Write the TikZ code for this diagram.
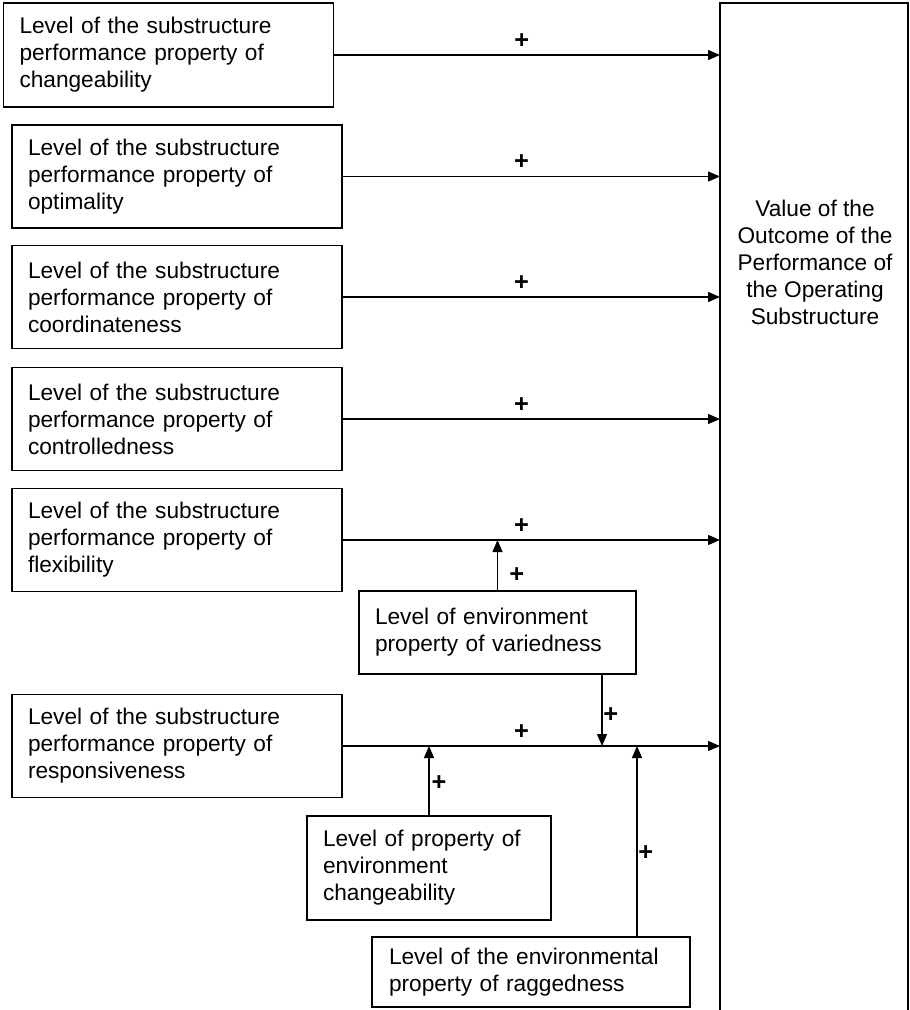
\documentclass[tikz,border=0pt]{standalone}
\usepackage{fontspec}
\setmainfont{Liberation Sans}
\usetikzlibrary{arrows.meta,positioning}

\begin{document}
\begin{tikzpicture}[x=.75pt,y=-.75pt,line width=.9pt,font=\fontsize{17}{20.25}\selectfont,
  >={Triangle[length=9pt,width=7.5pt]},
  levelbox/.style={draw,align=left,inner xsep=12pt,text width=223.5pt,minimum height=77.25pt},
  envbox/.style={draw,align=left,inner xsep=12pt},
  plus/.style={font=\fontsize{19}{19}\selectfont\bfseries,inner sep=.5pt}]
  \useasboundingbox (0,0) rectangle (910,1010);
  \node[levelbox,minimum height=78pt] (chg) at (168.5,55) {Level of the substructure\\performance property of\\changeability};
  \node[levelbox] (opt) at (177,176.5) {Level of the substructure\\performance property of\\optimality};
  \node[levelbox] (coord) at (177,297) {Level of the substructure\\performance property of\\coordinateness};
  \node[levelbox] (ctrl) at (177,419) {Level of the substructure\\performance property of\\controlledness};
  \node[levelbox] (flex) at (177,540) {Level of the substructure\\performance property of\\flexibility};
  \node[levelbox] (resp) at (177,746) {Level of the substructure\\performance property of\\responsiveness};
  \node[envbox,text width=183.75pt,minimum height=62.25pt] (vary) at (497.5,632.5) {Level of environment\\property of variedness};
  \node[envbox,text width=159pt,minimum height=78pt] (envchg) at (429,868) {Level of property of\\environment\\changeability};
  \node[envbox,text width=213pt,inner xsep=12.75pt,minimum height=52.5pt] (ragg) at (531,972) {Level of the environmental\\property of raggedness};
  \node[align=center] (outcome) at (815,262) {Value of the\\Outcome of the\\Performance of\\the Operating\\Substructure};
  \coordinate (outtl) at (720,3);
  \coordinate (outtr) at (908,3);
  \draw (720,1010) -- (outtl) -- (outtr) -- (908,1010);
  \draw[->] (chg.east) -- (chg.east -| outtl) node[plus,pos=.486,above=4pt]{+};
  \foreach \src in {opt,coord,ctrl,flex,resp}{
    \draw[->] (\src.east) -- (\src.east -| outtl) node[plus,pos=.474,above=4pt]{+};
  }
  \coordinate (varyout) at ([xshift=78.4pt]vary.south);
  \coordinate (raggout) at ([xshift=79.5pt]ragg.north);
  \draw[->] (vary.north) -- (vary.north |- flex.east) node[plus,pos=.3,right=8pt]{+};
  \draw[->] (varyout) -- (varyout |- resp.east) node[plus,pos=.56,right=0pt]{+};
  \draw[->] (envchg.north) -- (envchg.north |- resp.east) node[plus,pos=.46,right=1pt]{+};
  \draw[->] (raggout) -- (raggout |- resp.east) node[plus,pos=.44,right=0pt]{+};
\end{tikzpicture}
\end{document}
